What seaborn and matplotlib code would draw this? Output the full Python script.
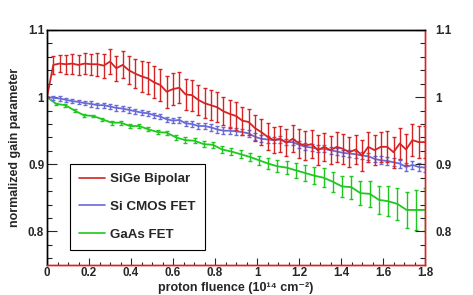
import numpy as np
import pandas as pd
import seaborn as sns
import matplotlib.pyplot as plt
from matplotlib.ticker import MultipleLocator, FuncFormatter
from matplotlib.lines import Line2D

# normalized gain vs proton fluence
sige_gain = [1.000, 1.048, 1.050, 1.049, 1.050, 1.048, 1.050, 1.049, 1.049, 1.047,
             1.053, 1.043, 1.048, 1.040, 1.035, 1.031, 1.028, 1.022, 1.018, 1.008,
             1.012, 1.014, 1.004, 1.003, 0.996, 0.991, 0.988, 0.985, 0.979, 0.975,
             0.972, 0.965, 0.963, 0.954, 0.948, 0.941, 0.936, 0.938, 0.932, 0.938,
             0.931, 0.928, 0.930, 0.921, 0.926, 0.921, 0.926, 0.923, 0.918, 0.922,
             0.913, 0.926, 0.921, 0.926, 0.926, 0.918, 0.931, 0.922, 0.936, 0.933,
             0.933]
sige_err = [0.000, 0.013, 0.013, 0.014, 0.015, 0.015, 0.016, 0.016, 0.017, 0.018,
            0.018, 0.019, 0.020, 0.021, 0.022, 0.023, 0.024, 0.024, 0.024, 0.024,
            0.024, 0.023, 0.023, 0.023, 0.022, 0.022, 0.022, 0.022, 0.021, 0.021,
            0.021, 0.021, 0.020, 0.020, 0.020, 0.020, 0.019, 0.019, 0.020, 0.020,
            0.021, 0.021, 0.021, 0.022, 0.021, 0.021, 0.022, 0.022, 0.022, 0.022,
            0.023, 0.022, 0.022, 0.022, 0.023, 0.023, 0.023, 0.023, 0.024, 0.024,
            0.024]

cmos_gain = [1.000, 0.999, 0.998, 0.996, 0.994, 0.993, 0.991, 0.990, 0.988, 0.988,
             0.986, 0.984, 0.983, 0.981, 0.979, 0.977, 0.976, 0.973, 0.971, 0.967,
             0.965, 0.966, 0.961, 0.960, 0.957, 0.957, 0.955, 0.952, 0.950, 0.950,
             0.949, 0.948, 0.946, 0.941, 0.938, 0.937, 0.936, 0.937, 0.933, 0.933,
             0.929, 0.926, 0.925, 0.923, 0.923, 0.921, 0.919, 0.917, 0.916, 0.915,
             0.913, 0.912, 0.908, 0.906, 0.905, 0.903, 0.901, 0.896, 0.899, 0.896,
             0.895]
cmos_err = [0.000, 0.003, 0.003, 0.003, 0.003, 0.003, 0.003, 0.004, 0.004, 0.004,
            0.004, 0.004, 0.004, 0.004, 0.004, 0.004, 0.004, 0.004, 0.004, 0.004,
            0.004, 0.004, 0.004, 0.004, 0.004, 0.005, 0.005, 0.005, 0.005, 0.005,
            0.005, 0.005, 0.005, 0.005, 0.005, 0.005, 0.005, 0.005, 0.005, 0.005,
            0.005, 0.005, 0.005, 0.005, 0.005, 0.005, 0.005, 0.005, 0.005, 0.005,
            0.005, 0.005, 0.005, 0.006, 0.006, 0.006, 0.006, 0.006, 0.006, 0.006,
            0.006]

gaas_gain = [1.000, 0.990, 0.988, 0.980, 0.973, 0.972, 0.967, 0.962, 0.962, 0.957,
             0.957, 0.952, 0.948, 0.947, 0.940, 0.936, 0.935, 0.930, 0.929, 0.922,
             0.919, 0.915, 0.911, 0.906, 0.901, 0.897, 0.895, 0.891, 0.887, 0.883,
             0.880, 0.874, 0.867, 0.866, 0.857, 0.856, 0.847, 0.845, 0.841, 0.832,
             0.832, 0.832]
gaas_err = [0.000, 0.002, 0.002, 0.002, 0.002, 0.002, 0.002, 0.003, 0.003, 0.003,
            0.003, 0.003, 0.003, 0.003, 0.004, 0.004, 0.004, 0.004, 0.004, 0.005,
            0.005, 0.006, 0.006, 0.007, 0.008, 0.009, 0.010, 0.011, 0.012, 0.013,
            0.014, 0.015, 0.016, 0.017, 0.018, 0.019, 0.021, 0.022, 0.024, 0.027,
            0.030, 0.032]

devices = ['SiGe Bipolar', 'Si CMOS FET', 'GaAs FET']
colors = {'SiGe Bipolar': '#d42424', 'Si CMOS FET': '#6a6ad8', 'GaAs FET': '#1ec81e'}

frames = []
for name, g, e in [('SiGe Bipolar', sige_gain, sige_err),
                   ('Si CMOS FET', cmos_gain, cmos_err),
                   ('GaAs FET', gaas_gain, gaas_err)]:
    frames.append(pd.DataFrame({'fluence': np.linspace(0, 1.8, len(g)),
                                'gain': g, 'err': e, 'device': name}))
data = pd.concat(frames, ignore_index=True)

sns.set_style('ticks')
plt.rcParams['font.family'] = ['Liberation Sans', 'DejaVu Sans']
plt.rcParams['font.weight'] = 'bold'
plt.rcParams['axes.labelweight'] = 'bold'

fig = plt.figure(figsize=(4.73, 2.95), dpi=100)
ax = fig.add_axes([47 / 473, 1 - 265 / 295, 378 / 473, 235 / 295])

# draw green first, red on top
for z, name in enumerate(['GaAs FET', 'Si CMOS FET', 'SiGe Bipolar']):
    d = data[data['device'] == name]
    ax.errorbar(d['fluence'], d['gain'], yerr=d['err'], fmt='none',
                ecolor=colors[name], elinewidth=1.0, capsize=1.6,
                capthick=1.0, zorder=2 + z)
    sns.lineplot(data=d, x='fluence', y='gain', color=colors[name],
                 linewidth=1.3, ax=ax, zorder=2.5 + z)

ax.set_xlim(0, 1.8)
ax.set_ylim(0.75, 1.1)
fmt = FuncFormatter(lambda v, _: '{:g}'.format(round(v, 2)))

# right-hand copy of the y axis
ax2 = ax.twinx()
ax2.set_ylim(0.75, 1.1)

for a in (ax, ax2):
    a.yaxis.set_major_locator(MultipleLocator(0.1))
    a.yaxis.set_minor_locator(MultipleLocator(0.02))
    a.yaxis.set_major_formatter(fmt)
    a.tick_params(axis='y', which='major', direction='in', length=7.5,
                  width=0.8, labelsize=8.4)
    a.tick_params(axis='y', which='minor', direction='in', length=3.6,
                  width=0.8)
ax.tick_params(axis='y', which='major', pad=2)
ax2.tick_params(axis='y', which='major', pad=7.5)

ax.xaxis.set_major_locator(MultipleLocator(0.2))
ax.xaxis.set_minor_locator(MultipleLocator(0.05))
ax.xaxis.set_major_formatter(fmt)
ax.tick_params(axis='x', which='major', direction='in', length=5,
               width=0.8, labelsize=8.4, pad=1.5)
ax.tick_params(axis='x', which='minor', direction='in', length=2.5, width=0.8)

for a in (ax, ax2):
    for s in a.spines.values():
        s.set_linewidth(1.0)
        s.set_color('black')
    a.spines['bottom'].set_color('#d42424')
    a.spines['right'].set_color('#d42424')

ax.set_xlabel('proton fluence (10\u00b9\u2074 cm\u207b\u00b2)', fontsize=9)
ax.xaxis.set_label_coords(0.5, -0.122)
ax.xaxis.label.set_verticalalignment('bottom')
ax.set_ylabel('normalized gain parameter', fontsize=9)
ax.yaxis.set_label_coords(-0.069, 0.5)

handles = [Line2D([], [], color=colors[n], linewidth=1.2) for n in devices]
leg = ax2.legend(handles, devices, loc='lower left',
                 bbox_to_anchor=(70 / 473, 1 - 250 / 295),
                 bbox_transform=fig.transFigure, borderaxespad=0,
                 fontsize=9.6, frameon=True, fancybox=False, framealpha=1,
                 edgecolor='black', handlelength=1.9, handletextpad=0.4,
                 labelspacing=1.15, borderpad=0.7)
leg.get_frame().set_linewidth(0.8)
for t in leg.get_texts():
    t.set_fontweight('bold')

plt.savefig('out.png', dpi=100)
